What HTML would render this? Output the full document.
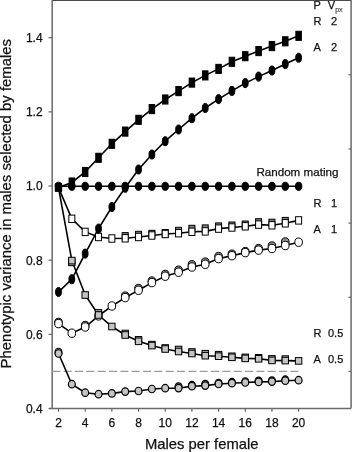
<!DOCTYPE html>
<html><head><meta charset="utf-8"><style>
html,body{margin:0;padding:0;background:#fff;}
svg{display:block;filter:grayscale(1) blur(0.35px);}
text{font-family:"Liberation Sans",sans-serif;fill:#111;stroke:#111;stroke-width:0.25px;}
.t{font-size:12px;}
.l{font-size:11px;}
.s{font-size:7px;fill:#444;stroke:#444;stroke-width:0.15px;}
.a{font-size:14.8px;}
</style></head><body>
<svg width="352" height="452" viewBox="0 0 352 452">
<path d="M52,0.5 H351" stroke="#4a4a4a" stroke-width="1" fill="none"/><path d="M52.2,0 V408.5 M351.1,0 V408.5 M49,408.5 H351" stroke="#6a6a6a" stroke-width="1.5" fill="none"/>
<path d="M48.5,408.50 H52" stroke="#666" stroke-width="1.2"/>
<text x="42.6" y="412.90" text-anchor="end" class="t">0.4</text>
<path d="M48.5,334.34 H52" stroke="#666" stroke-width="1.2"/>
<text x="42.6" y="338.74" text-anchor="end" class="t">0.6</text>
<path d="M48.5,260.18 H52" stroke="#666" stroke-width="1.2"/>
<text x="42.6" y="264.58" text-anchor="end" class="t">0.8</text>
<path d="M48.5,186.02 H52" stroke="#666" stroke-width="1.2"/>
<text x="42.6" y="190.42" text-anchor="end" class="t">1.0</text>
<path d="M48.5,111.86 H52" stroke="#666" stroke-width="1.2"/>
<text x="42.6" y="116.26" text-anchor="end" class="t">1.2</text>
<path d="M48.5,37.70 H52" stroke="#666" stroke-width="1.2"/>
<text x="42.6" y="42.10" text-anchor="end" class="t">1.4</text>
<path d="M348.5,371.42 H351" stroke="#666" stroke-width="1.2"/>
<path d="M348.5,297.26 H351" stroke="#666" stroke-width="1.2"/>
<path d="M348.5,223.10 H351" stroke="#666" stroke-width="1.2"/>
<path d="M348.5,148.94 H351" stroke="#666" stroke-width="1.2"/>
<path d="M348.5,74.78 H351" stroke="#666" stroke-width="1.2"/>
<path d="M58.50,408.5 V411.8" stroke="#666" stroke-width="1.2"/>
<text x="58.50" y="426.8" text-anchor="middle" class="t">2</text>
<path d="M85.18,408.5 V411.8" stroke="#666" stroke-width="1.2"/>
<text x="85.18" y="426.8" text-anchor="middle" class="t">4</text>
<path d="M111.86,408.5 V411.8" stroke="#666" stroke-width="1.2"/>
<text x="111.86" y="426.8" text-anchor="middle" class="t">6</text>
<path d="M138.54,408.5 V411.8" stroke="#666" stroke-width="1.2"/>
<text x="138.54" y="426.8" text-anchor="middle" class="t">8</text>
<path d="M165.22,408.5 V411.8" stroke="#666" stroke-width="1.2"/>
<text x="165.22" y="426.8" text-anchor="middle" class="t">10</text>
<path d="M191.90,408.5 V411.8" stroke="#666" stroke-width="1.2"/>
<text x="191.90" y="426.8" text-anchor="middle" class="t">12</text>
<path d="M218.58,408.5 V411.8" stroke="#666" stroke-width="1.2"/>
<text x="218.58" y="426.8" text-anchor="middle" class="t">14</text>
<path d="M245.26,408.5 V411.8" stroke="#666" stroke-width="1.2"/>
<text x="245.26" y="426.8" text-anchor="middle" class="t">16</text>
<path d="M271.94,408.5 V411.8" stroke="#666" stroke-width="1.2"/>
<text x="271.94" y="426.8" text-anchor="middle" class="t">18</text>
<path d="M298.62,408.5 V411.8" stroke="#666" stroke-width="1.2"/>
<text x="298.62" y="426.8" text-anchor="middle" class="t">20</text>
<path d="M52.3,371.42 H298.3" stroke="#9a9a9a" stroke-width="1.1" stroke-dasharray="8,3.34"/>
<polyline points="58.50,187.40 71.84,182.50 85.18,172.00 98.52,157.80 111.86,143.80 125.20,131.60 138.54,119.80 151.88,109.10 165.22,99.50 178.56,91.10 191.90,82.60 205.24,75.40 218.58,68.90 231.92,61.80 245.26,56.20 258.60,51.10 271.94,46.10 285.28,41.30 298.62,35.80" fill="none" stroke="#000" stroke-width="1.6"/>
<polyline points="58.50,292.00 71.84,279.20 85.18,253.60 98.52,228.60 111.86,207.00 125.20,187.80 138.54,169.50 151.88,154.50 165.22,141.20 178.56,129.50 191.90,118.20 205.24,108.00 218.58,99.10 231.92,90.90 245.26,83.10 258.60,76.60 271.94,70.50 285.28,64.00 298.62,57.70" fill="none" stroke="#000" stroke-width="1.6"/>
<polyline points="58.50,186.30 71.84,186.30 85.18,186.30 98.52,186.30 111.86,186.30 125.20,186.30 138.54,186.30 151.88,186.30 165.22,186.30 178.56,186.30 191.90,186.30 205.24,186.30 218.58,186.30 231.92,186.30 245.26,186.30 258.60,186.30 271.94,186.30 285.28,186.30 298.62,186.30" fill="none" stroke="#000" stroke-width="1.6"/>
<polyline points="58.50,187.60 71.84,218.80 85.18,231.90 98.52,237.00 111.86,238.50 125.20,238.30 138.54,237.00 151.88,235.50 165.22,234.00 178.56,233.20 191.90,231.80 205.24,231.40 218.58,228.60 231.92,227.50 245.26,226.30 258.60,224.60 271.94,225.30 285.28,223.30 298.62,220.40" fill="none" stroke="#000" stroke-width="1.6"/>
<polyline points="58.50,323.60 71.84,333.20 85.18,327.00 98.52,315.90 111.86,306.00 125.20,297.60 138.54,290.30 151.88,282.60 165.22,276.20 178.56,272.20 191.90,267.00 205.24,264.30 218.58,258.60 231.92,255.70 245.26,252.60 258.60,250.10 271.94,248.50 285.28,245.50 298.62,242.20" fill="none" stroke="#000" stroke-width="1.6"/>
<polyline points="58.50,187.60 71.84,260.60 85.18,295.00 98.52,315.00 111.86,326.50 125.20,335.00 138.54,341.30 151.88,345.60 165.22,349.00 178.56,351.50 191.90,353.50 205.24,355.70 218.58,356.20 231.92,357.30 245.26,358.40 258.60,358.80 271.94,360.40 285.28,360.60 298.62,360.90" fill="none" stroke="#000" stroke-width="1.6"/>
<polyline points="58.50,353.50 71.84,384.20 85.18,392.70 98.52,394.20 111.86,393.40 125.20,391.60 138.54,391.00 151.88,389.00 165.22,388.20 178.56,388.10 191.90,386.20 205.24,385.60 218.58,384.00 231.92,383.20 245.26,382.50 258.60,381.90 271.94,381.60 285.28,380.70 298.62,380.20" fill="none" stroke="#000" stroke-width="1.6"/>
<ellipse cx="58.50" cy="352.00" rx="3.45" ry="3.75" fill="#a8a8a8" stroke="#000" stroke-width="1.2"/><ellipse cx="178.56" cy="386.60" rx="3.45" ry="3.75" fill="#a8a8a8" stroke="#000" stroke-width="1.2"/><ellipse cx="191.90" cy="385.20" rx="3.45" ry="3.75" fill="#a8a8a8" stroke="#000" stroke-width="1.2"/><ellipse cx="205.24" cy="384.10" rx="3.45" ry="3.75" fill="#a8a8a8" stroke="#000" stroke-width="1.2"/><ellipse cx="218.58" cy="383.00" rx="3.45" ry="3.75" fill="#a8a8a8" stroke="#000" stroke-width="1.2"/><ellipse cx="231.92" cy="382.20" rx="3.45" ry="3.75" fill="#a8a8a8" stroke="#000" stroke-width="1.2"/><ellipse cx="245.26" cy="381.50" rx="3.45" ry="3.75" fill="#a8a8a8" stroke="#000" stroke-width="1.2"/><ellipse cx="258.60" cy="380.90" rx="3.45" ry="3.75" fill="#a8a8a8" stroke="#000" stroke-width="1.2"/><ellipse cx="271.94" cy="380.60" rx="3.45" ry="3.75" fill="#a8a8a8" stroke="#000" stroke-width="1.2"/><ellipse cx="285.28" cy="379.70" rx="3.45" ry="3.75" fill="#a8a8a8" stroke="#000" stroke-width="1.2"/>
<ellipse cx="58.50" cy="322.40" rx="3.8" ry="4.2" fill="#909090" stroke="#000" stroke-width="1"/><ellipse cx="85.18" cy="325.50" rx="3.8" ry="4.2" fill="#909090" stroke="#000" stroke-width="1"/><ellipse cx="125.20" cy="296.10" rx="3.8" ry="4.2" fill="#909090" stroke="#000" stroke-width="1"/><ellipse cx="138.54" cy="288.50" rx="3.8" ry="4.2" fill="#909090" stroke="#000" stroke-width="1"/><ellipse cx="151.88" cy="281.10" rx="3.8" ry="4.2" fill="#909090" stroke="#000" stroke-width="1"/><ellipse cx="165.22" cy="274.40" rx="3.8" ry="4.2" fill="#909090" stroke="#000" stroke-width="1"/><ellipse cx="178.56" cy="270.20" rx="3.8" ry="4.2" fill="#909090" stroke="#000" stroke-width="1"/><ellipse cx="191.90" cy="264.80" rx="3.8" ry="4.2" fill="#909090" stroke="#000" stroke-width="1"/><ellipse cx="205.24" cy="262.10" rx="3.8" ry="4.2" fill="#909090" stroke="#000" stroke-width="1"/><ellipse cx="218.58" cy="256.60" rx="3.8" ry="4.2" fill="#909090" stroke="#000" stroke-width="1"/><ellipse cx="231.92" cy="254.20" rx="3.8" ry="4.2" fill="#909090" stroke="#000" stroke-width="1"/><ellipse cx="245.26" cy="251.60" rx="3.8" ry="4.2" fill="#909090" stroke="#000" stroke-width="1"/><ellipse cx="258.60" cy="248.60" rx="3.8" ry="4.2" fill="#909090" stroke="#000" stroke-width="1"/><ellipse cx="271.94" cy="246.00" rx="3.8" ry="4.2" fill="#909090" stroke="#000" stroke-width="1"/><ellipse cx="285.28" cy="242.00" rx="3.8" ry="4.2" fill="#909090" stroke="#000" stroke-width="1"/>
<rect x="68.64" y="259.10" width="6.4" height="6.6" fill="#a8a8a8" stroke="#000" stroke-width="1"/><rect x="95.32" y="309.60" width="6.4" height="6.6" fill="#a8a8a8" stroke="#000" stroke-width="1"/><rect x="122.00" y="330.20" width="6.4" height="6.6" fill="#a8a8a8" stroke="#000" stroke-width="1"/><rect x="135.34" y="336.50" width="6.4" height="6.6" fill="#a8a8a8" stroke="#000" stroke-width="1"/><rect x="148.68" y="341.30" width="6.4" height="6.6" fill="#a8a8a8" stroke="#000" stroke-width="1"/><rect x="162.02" y="344.70" width="6.4" height="6.6" fill="#a8a8a8" stroke="#000" stroke-width="1"/><rect x="175.36" y="346.20" width="6.4" height="6.6" fill="#a8a8a8" stroke="#000" stroke-width="1"/><rect x="188.70" y="348.70" width="6.4" height="6.6" fill="#a8a8a8" stroke="#000" stroke-width="1"/><rect x="202.04" y="350.40" width="6.4" height="6.6" fill="#a8a8a8" stroke="#000" stroke-width="1"/><rect x="215.38" y="351.40" width="6.4" height="6.6" fill="#a8a8a8" stroke="#000" stroke-width="1"/><rect x="228.72" y="353.00" width="6.4" height="6.6" fill="#a8a8a8" stroke="#000" stroke-width="1"/><rect x="242.06" y="354.10" width="6.4" height="6.6" fill="#a8a8a8" stroke="#000" stroke-width="1"/><rect x="255.40" y="354.50" width="6.4" height="6.6" fill="#a8a8a8" stroke="#000" stroke-width="1"/><rect x="268.74" y="355.60" width="6.4" height="6.6" fill="#a8a8a8" stroke="#000" stroke-width="1"/><rect x="282.08" y="355.80" width="6.4" height="6.6" fill="#a8a8a8" stroke="#000" stroke-width="1"/>
<rect x="122.20" y="232.60" width="6" height="7.4" fill="#808080" stroke="#000" stroke-width="1"/><rect x="135.54" y="231.30" width="6" height="7.4" fill="#808080" stroke="#000" stroke-width="1"/><rect x="148.88" y="230.30" width="6" height="7.4" fill="#808080" stroke="#000" stroke-width="1"/><rect x="162.22" y="229.50" width="6" height="7.4" fill="#808080" stroke="#000" stroke-width="1"/><rect x="175.56" y="227.30" width="6" height="7.4" fill="#808080" stroke="#000" stroke-width="1"/><rect x="188.90" y="225.30" width="6" height="7.4" fill="#808080" stroke="#000" stroke-width="1"/><rect x="202.24" y="224.90" width="6" height="7.4" fill="#808080" stroke="#000" stroke-width="1"/><rect x="215.58" y="222.90" width="6" height="7.4" fill="#808080" stroke="#000" stroke-width="1"/><rect x="228.92" y="222.00" width="6" height="7.4" fill="#808080" stroke="#000" stroke-width="1"/><rect x="242.26" y="221.00" width="6" height="7.4" fill="#808080" stroke="#000" stroke-width="1"/><rect x="255.60" y="218.70" width="6" height="7.4" fill="#808080" stroke="#000" stroke-width="1"/><rect x="268.94" y="219.20" width="6" height="7.4" fill="#808080" stroke="#000" stroke-width="1"/><rect x="282.28" y="217.40" width="6" height="7.4" fill="#808080" stroke="#000" stroke-width="1"/>
<ellipse cx="58.50" cy="353.50" rx="3.45" ry="3.75" fill="#c4c4c4" stroke="#000" stroke-width="1.2"/><ellipse cx="71.84" cy="384.20" rx="3.45" ry="3.75" fill="#c4c4c4" stroke="#000" stroke-width="1.2"/><ellipse cx="85.18" cy="392.70" rx="3.45" ry="3.75" fill="#c4c4c4" stroke="#000" stroke-width="1.2"/><ellipse cx="98.52" cy="394.20" rx="3.45" ry="3.75" fill="#c4c4c4" stroke="#000" stroke-width="1.2"/><ellipse cx="111.86" cy="393.40" rx="3.45" ry="3.75" fill="#c4c4c4" stroke="#000" stroke-width="1.2"/><ellipse cx="125.20" cy="391.60" rx="3.45" ry="3.75" fill="#c4c4c4" stroke="#000" stroke-width="1.2"/><ellipse cx="138.54" cy="391.00" rx="3.45" ry="3.75" fill="#c4c4c4" stroke="#000" stroke-width="1.2"/><ellipse cx="151.88" cy="389.00" rx="3.45" ry="3.75" fill="#c4c4c4" stroke="#000" stroke-width="1.2"/><ellipse cx="165.22" cy="388.20" rx="3.45" ry="3.75" fill="#c4c4c4" stroke="#000" stroke-width="1.2"/><ellipse cx="178.56" cy="388.10" rx="3.45" ry="3.75" fill="#c4c4c4" stroke="#000" stroke-width="1.2"/><ellipse cx="191.90" cy="386.20" rx="3.45" ry="3.75" fill="#c4c4c4" stroke="#000" stroke-width="1.2"/><ellipse cx="205.24" cy="385.60" rx="3.45" ry="3.75" fill="#c4c4c4" stroke="#000" stroke-width="1.2"/><ellipse cx="218.58" cy="384.00" rx="3.45" ry="3.75" fill="#c4c4c4" stroke="#000" stroke-width="1.2"/><ellipse cx="231.92" cy="383.20" rx="3.45" ry="3.75" fill="#c4c4c4" stroke="#000" stroke-width="1.2"/><ellipse cx="245.26" cy="382.50" rx="3.45" ry="3.75" fill="#c4c4c4" stroke="#000" stroke-width="1.2"/><ellipse cx="258.60" cy="381.90" rx="3.45" ry="3.75" fill="#c4c4c4" stroke="#000" stroke-width="1.2"/><ellipse cx="271.94" cy="381.60" rx="3.45" ry="3.75" fill="#c4c4c4" stroke="#000" stroke-width="1.2"/><ellipse cx="285.28" cy="380.70" rx="3.45" ry="3.75" fill="#c4c4c4" stroke="#000" stroke-width="1.2"/><ellipse cx="298.62" cy="380.20" rx="3.45" ry="3.75" fill="#c4c4c4" stroke="#000" stroke-width="1.2"/>
<ellipse cx="58.50" cy="323.60" rx="3.8" ry="4.2" fill="#fff" stroke="#000" stroke-width="1"/><ellipse cx="71.84" cy="333.20" rx="3.8" ry="4.2" fill="#fff" stroke="#000" stroke-width="1"/><ellipse cx="85.18" cy="327.00" rx="3.8" ry="4.2" fill="#fff" stroke="#000" stroke-width="1"/><ellipse cx="98.52" cy="315.90" rx="3.8" ry="4.2" fill="#fff" stroke="#000" stroke-width="1"/><ellipse cx="111.86" cy="306.00" rx="3.8" ry="4.2" fill="#fff" stroke="#000" stroke-width="1"/><ellipse cx="125.20" cy="297.60" rx="3.8" ry="4.2" fill="#fff" stroke="#000" stroke-width="1"/><ellipse cx="138.54" cy="290.30" rx="3.8" ry="4.2" fill="#fff" stroke="#000" stroke-width="1"/><ellipse cx="151.88" cy="282.60" rx="3.8" ry="4.2" fill="#fff" stroke="#000" stroke-width="1"/><ellipse cx="165.22" cy="276.20" rx="3.8" ry="4.2" fill="#fff" stroke="#000" stroke-width="1"/><ellipse cx="178.56" cy="272.20" rx="3.8" ry="4.2" fill="#fff" stroke="#000" stroke-width="1"/><ellipse cx="191.90" cy="267.00" rx="3.8" ry="4.2" fill="#fff" stroke="#000" stroke-width="1"/><ellipse cx="205.24" cy="264.30" rx="3.8" ry="4.2" fill="#fff" stroke="#000" stroke-width="1"/><ellipse cx="218.58" cy="258.60" rx="3.8" ry="4.2" fill="#fff" stroke="#000" stroke-width="1"/><ellipse cx="231.92" cy="255.70" rx="3.8" ry="4.2" fill="#fff" stroke="#000" stroke-width="1"/><ellipse cx="245.26" cy="252.60" rx="3.8" ry="4.2" fill="#fff" stroke="#000" stroke-width="1"/><ellipse cx="258.60" cy="250.10" rx="3.8" ry="4.2" fill="#fff" stroke="#000" stroke-width="1"/><ellipse cx="271.94" cy="248.50" rx="3.8" ry="4.2" fill="#fff" stroke="#000" stroke-width="1"/><ellipse cx="285.28" cy="245.50" rx="3.8" ry="4.2" fill="#fff" stroke="#000" stroke-width="1"/><ellipse cx="298.62" cy="242.20" rx="3.8" ry="4.2" fill="#fff" stroke="#000" stroke-width="1"/>
<rect x="55.30" y="184.30" width="6.4" height="6.6" fill="#c4c4c4" stroke="#000" stroke-width="1"/><rect x="68.64" y="257.30" width="6.4" height="6.6" fill="#c4c4c4" stroke="#000" stroke-width="1"/><rect x="81.98" y="291.70" width="6.4" height="6.6" fill="#c4c4c4" stroke="#000" stroke-width="1"/><rect x="95.32" y="311.70" width="6.4" height="6.6" fill="#c4c4c4" stroke="#000" stroke-width="1"/><rect x="108.66" y="323.20" width="6.4" height="6.6" fill="#c4c4c4" stroke="#000" stroke-width="1"/><rect x="122.00" y="331.70" width="6.4" height="6.6" fill="#c4c4c4" stroke="#000" stroke-width="1"/><rect x="135.34" y="338.00" width="6.4" height="6.6" fill="#c4c4c4" stroke="#000" stroke-width="1"/><rect x="148.68" y="342.30" width="6.4" height="6.6" fill="#c4c4c4" stroke="#000" stroke-width="1"/><rect x="162.02" y="345.70" width="6.4" height="6.6" fill="#c4c4c4" stroke="#000" stroke-width="1"/><rect x="175.36" y="348.20" width="6.4" height="6.6" fill="#c4c4c4" stroke="#000" stroke-width="1"/><rect x="188.70" y="350.20" width="6.4" height="6.6" fill="#c4c4c4" stroke="#000" stroke-width="1"/><rect x="202.04" y="352.40" width="6.4" height="6.6" fill="#c4c4c4" stroke="#000" stroke-width="1"/><rect x="215.38" y="352.90" width="6.4" height="6.6" fill="#c4c4c4" stroke="#000" stroke-width="1"/><rect x="228.72" y="354.00" width="6.4" height="6.6" fill="#c4c4c4" stroke="#000" stroke-width="1"/><rect x="242.06" y="355.10" width="6.4" height="6.6" fill="#c4c4c4" stroke="#000" stroke-width="1"/><rect x="255.40" y="355.50" width="6.4" height="6.6" fill="#c4c4c4" stroke="#000" stroke-width="1"/><rect x="268.74" y="357.10" width="6.4" height="6.6" fill="#c4c4c4" stroke="#000" stroke-width="1"/><rect x="282.08" y="357.30" width="6.4" height="6.6" fill="#c4c4c4" stroke="#000" stroke-width="1"/><rect x="295.42" y="357.60" width="6.4" height="6.6" fill="#c4c4c4" stroke="#000" stroke-width="1"/>
<rect x="55.50" y="183.90" width="6" height="7.4" fill="#fff" stroke="#000" stroke-width="1"/><rect x="68.84" y="215.10" width="6" height="7.4" fill="#fff" stroke="#000" stroke-width="1"/><rect x="82.18" y="228.20" width="6" height="7.4" fill="#fff" stroke="#000" stroke-width="1"/><rect x="95.52" y="233.30" width="6" height="7.4" fill="#fff" stroke="#000" stroke-width="1"/><rect x="108.86" y="234.80" width="6" height="7.4" fill="#fff" stroke="#000" stroke-width="1"/><rect x="122.20" y="234.60" width="6" height="7.4" fill="#fff" stroke="#000" stroke-width="1"/><rect x="135.54" y="233.30" width="6" height="7.4" fill="#fff" stroke="#000" stroke-width="1"/><rect x="148.88" y="231.80" width="6" height="7.4" fill="#fff" stroke="#000" stroke-width="1"/><rect x="162.22" y="230.30" width="6" height="7.4" fill="#fff" stroke="#000" stroke-width="1"/><rect x="175.56" y="229.50" width="6" height="7.4" fill="#fff" stroke="#000" stroke-width="1"/><rect x="188.90" y="228.10" width="6" height="7.4" fill="#fff" stroke="#000" stroke-width="1"/><rect x="202.24" y="227.70" width="6" height="7.4" fill="#fff" stroke="#000" stroke-width="1"/><rect x="215.58" y="224.90" width="6" height="7.4" fill="#fff" stroke="#000" stroke-width="1"/><rect x="228.92" y="223.80" width="6" height="7.4" fill="#fff" stroke="#000" stroke-width="1"/><rect x="242.26" y="222.60" width="6" height="7.4" fill="#fff" stroke="#000" stroke-width="1"/><rect x="255.60" y="220.90" width="6" height="7.4" fill="#fff" stroke="#000" stroke-width="1"/><rect x="268.94" y="221.60" width="6" height="7.4" fill="#fff" stroke="#000" stroke-width="1"/><rect x="282.28" y="219.60" width="6" height="7.4" fill="#fff" stroke="#000" stroke-width="1"/><rect x="295.62" y="216.70" width="6" height="7.4" fill="#fff" stroke="#000" stroke-width="1"/>
<ellipse cx="58.50" cy="292.00" rx="2.9" ry="4.55" fill="#000" stroke="#000" stroke-width="1"/><ellipse cx="71.84" cy="279.20" rx="2.9" ry="4.55" fill="#000" stroke="#000" stroke-width="1"/><ellipse cx="85.18" cy="253.60" rx="2.9" ry="4.55" fill="#000" stroke="#000" stroke-width="1"/><ellipse cx="98.52" cy="228.60" rx="2.9" ry="4.55" fill="#000" stroke="#000" stroke-width="1"/><ellipse cx="111.86" cy="207.00" rx="2.9" ry="4.55" fill="#000" stroke="#000" stroke-width="1"/><ellipse cx="125.20" cy="187.80" rx="2.9" ry="4.55" fill="#000" stroke="#000" stroke-width="1"/><ellipse cx="138.54" cy="169.50" rx="2.9" ry="4.55" fill="#000" stroke="#000" stroke-width="1"/><ellipse cx="151.88" cy="154.50" rx="2.9" ry="4.55" fill="#000" stroke="#000" stroke-width="1"/><ellipse cx="165.22" cy="141.20" rx="2.9" ry="4.55" fill="#000" stroke="#000" stroke-width="1"/><ellipse cx="178.56" cy="129.50" rx="2.9" ry="4.55" fill="#000" stroke="#000" stroke-width="1"/><ellipse cx="191.90" cy="118.20" rx="2.9" ry="4.55" fill="#000" stroke="#000" stroke-width="1"/><ellipse cx="205.24" cy="108.00" rx="2.9" ry="4.55" fill="#000" stroke="#000" stroke-width="1"/><ellipse cx="218.58" cy="99.10" rx="2.9" ry="4.55" fill="#000" stroke="#000" stroke-width="1"/><ellipse cx="231.92" cy="90.90" rx="2.9" ry="4.55" fill="#000" stroke="#000" stroke-width="1"/><ellipse cx="245.26" cy="83.10" rx="2.9" ry="4.55" fill="#000" stroke="#000" stroke-width="1"/><ellipse cx="258.60" cy="76.60" rx="2.9" ry="4.55" fill="#000" stroke="#000" stroke-width="1"/><ellipse cx="271.94" cy="70.50" rx="2.9" ry="4.55" fill="#000" stroke="#000" stroke-width="1"/><ellipse cx="285.28" cy="64.00" rx="2.9" ry="4.55" fill="#000" stroke="#000" stroke-width="1"/><ellipse cx="298.62" cy="57.70" rx="2.9" ry="4.55" fill="#000" stroke="#000" stroke-width="1"/>
<rect x="69.09" y="177.95" width="5.5" height="9.1" fill="#000" stroke="#000" stroke-width="1"/><rect x="82.43" y="167.45" width="5.5" height="9.1" fill="#000" stroke="#000" stroke-width="1"/><rect x="95.77" y="153.25" width="5.5" height="9.1" fill="#000" stroke="#000" stroke-width="1"/><rect x="109.11" y="139.25" width="5.5" height="9.1" fill="#000" stroke="#000" stroke-width="1"/><rect x="122.45" y="127.05" width="5.5" height="9.1" fill="#000" stroke="#000" stroke-width="1"/><rect x="135.79" y="115.25" width="5.5" height="9.1" fill="#000" stroke="#000" stroke-width="1"/><rect x="149.13" y="104.55" width="5.5" height="9.1" fill="#000" stroke="#000" stroke-width="1"/><rect x="162.47" y="94.95" width="5.5" height="9.1" fill="#000" stroke="#000" stroke-width="1"/><rect x="175.81" y="86.55" width="5.5" height="9.1" fill="#000" stroke="#000" stroke-width="1"/><rect x="189.15" y="78.05" width="5.5" height="9.1" fill="#000" stroke="#000" stroke-width="1"/><rect x="202.49" y="70.85" width="5.5" height="9.1" fill="#000" stroke="#000" stroke-width="1"/><rect x="215.83" y="64.35" width="5.5" height="9.1" fill="#000" stroke="#000" stroke-width="1"/><rect x="229.17" y="57.25" width="5.5" height="9.1" fill="#000" stroke="#000" stroke-width="1"/><rect x="242.51" y="51.65" width="5.5" height="9.1" fill="#000" stroke="#000" stroke-width="1"/><rect x="255.85" y="46.55" width="5.5" height="9.1" fill="#000" stroke="#000" stroke-width="1"/><rect x="269.19" y="41.55" width="5.5" height="9.1" fill="#000" stroke="#000" stroke-width="1"/><rect x="282.53" y="36.75" width="5.5" height="9.1" fill="#000" stroke="#000" stroke-width="1"/><rect x="295.87" y="31.25" width="5.5" height="9.1" fill="#000" stroke="#000" stroke-width="1"/>
<rect x="55.70" y="183.90" width="5.6" height="7" fill="#000" stroke="#000" stroke-width="1"/>
<ellipse cx="58.50" cy="186.30" rx="3.25" ry="4.1" fill="#000" stroke="#000" stroke-width="1"/><ellipse cx="71.84" cy="186.30" rx="3.25" ry="4.1" fill="#000" stroke="#000" stroke-width="1"/><ellipse cx="85.18" cy="186.30" rx="3.25" ry="4.1" fill="#000" stroke="#000" stroke-width="1"/><ellipse cx="98.52" cy="186.30" rx="3.25" ry="4.1" fill="#000" stroke="#000" stroke-width="1"/><ellipse cx="111.86" cy="186.30" rx="3.25" ry="4.1" fill="#000" stroke="#000" stroke-width="1"/><ellipse cx="125.20" cy="186.30" rx="3.25" ry="4.1" fill="#000" stroke="#000" stroke-width="1"/><ellipse cx="138.54" cy="186.30" rx="3.25" ry="4.1" fill="#000" stroke="#000" stroke-width="1"/><ellipse cx="151.88" cy="186.30" rx="3.25" ry="4.1" fill="#000" stroke="#000" stroke-width="1"/><ellipse cx="165.22" cy="186.30" rx="3.25" ry="4.1" fill="#000" stroke="#000" stroke-width="1"/><ellipse cx="178.56" cy="186.30" rx="3.25" ry="4.1" fill="#000" stroke="#000" stroke-width="1"/><ellipse cx="191.90" cy="186.30" rx="3.25" ry="4.1" fill="#000" stroke="#000" stroke-width="1"/><ellipse cx="205.24" cy="186.30" rx="3.25" ry="4.1" fill="#000" stroke="#000" stroke-width="1"/><ellipse cx="218.58" cy="186.30" rx="3.25" ry="4.1" fill="#000" stroke="#000" stroke-width="1"/><ellipse cx="231.92" cy="186.30" rx="3.25" ry="4.1" fill="#000" stroke="#000" stroke-width="1"/><ellipse cx="245.26" cy="186.30" rx="3.25" ry="4.1" fill="#000" stroke="#000" stroke-width="1"/><ellipse cx="258.60" cy="186.30" rx="3.25" ry="4.1" fill="#000" stroke="#000" stroke-width="1"/><ellipse cx="271.94" cy="186.30" rx="3.25" ry="4.1" fill="#000" stroke="#000" stroke-width="1"/><ellipse cx="285.28" cy="186.30" rx="3.25" ry="4.1" fill="#000" stroke="#000" stroke-width="1"/><ellipse cx="298.62" cy="186.30" rx="3.25" ry="4.1" fill="#000" stroke="#000" stroke-width="1"/>
<text x="313.5" y="8.8" class="l">P</text><text x="327.8" y="8.8" class="l">V</text><text x="335.2" y="12" class="s">px</text>
<text x="313.5" y="25.4" class="l">R</text>
<text x="313.5" y="51.2" class="l">A</text>
<text x="313.5" y="207" class="l">R</text>
<text x="313.5" y="232.5" class="l">A</text>
<text x="313.5" y="336.7" class="l">R</text>
<text x="313.5" y="362.5" class="l">A</text>
<text x="331" y="25.4" class="l">2</text>
<text x="331" y="51.2" class="l">2</text>
<text x="331" y="207" class="l">1</text>
<text x="331" y="232.5" class="l">1</text>
<text x="328" y="336.7" class="l">0.5</text>
<text x="328" y="362.5" class="l">0.5</text>
<text x="256.4" y="175.5" class="l" textLength="82" lengthAdjust="spacingAndGlyphs">Random mating</text>
<text x="145" y="448.5" class="a">Males per female</text>
<text transform="translate(11.2,368.4) rotate(-90)" class="a" style="font-size:14.9px">Phenotypic variance in males selected by females</text>
</svg>
</body></html>
